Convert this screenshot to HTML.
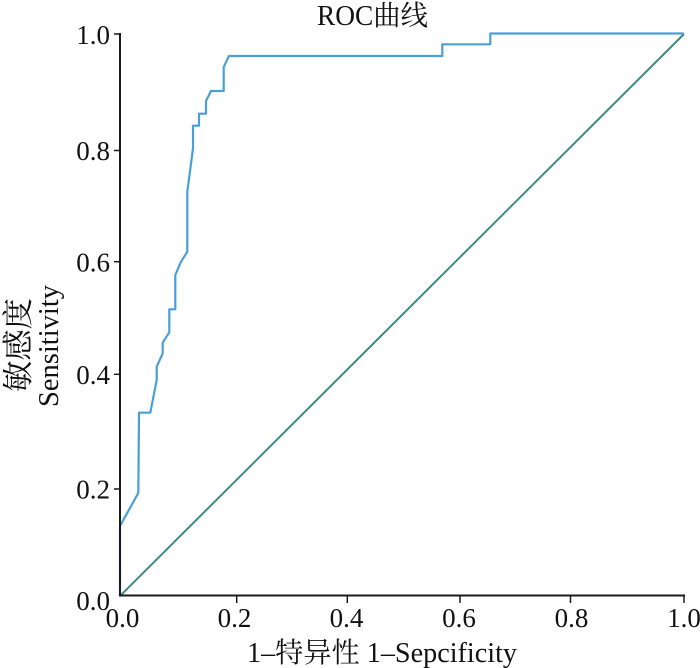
<!DOCTYPE html>
<html>
<head>
<meta charset="utf-8">
<style>
  html, body { margin: 0; padding: 0; background: #fff; }
  svg { display: block; }
  text { font-family: "Liberation Serif", "Noto Serif CJK SC", "Noto Sans CJK SC", serif; fill: #111; }
</style>
</head>
<body>
<svg width="700" height="668" viewBox="0 0 700 668" xmlns="http://www.w3.org/2000/svg">
  <rect width="700" height="668" fill="#fff"/>

  <!-- title -->
  <text x="317" y="25" font-size="28" textLength="111" lengthAdjust="spacingAndGlyphs">ROC曲线</text>

  <!-- diagonal reference -->
  <line x1="120" y1="596" x2="684" y2="34" stroke="#3f8a82" stroke-width="2"/>

  <!-- ROC curve -->
  <polyline fill="none" stroke="#4a9fd6" stroke-width="2.2" stroke-linejoin="round"
    points="120,596 120,526 138.3,493 139,412.7 150.3,412.7 156.7,380 156.7,366.7 162.7,353.3 162.7,342.7 169.3,332.3 169.3,309.3 175.3,309.3 175.3,275 181,261.7 187.3,251.7 187.3,191.7 193,148.3 193,125.7 199,125.7 199,113.7 206,113.7 206,101 211,91 223.7,91 223.7,67 229,56 442.3,56 442.3,44.3 490.3,44.3 490.3,33.5 684,33.5"/>

  <!-- axes -->
  <line x1="120" y1="33" x2="120" y2="596.5" stroke="#1a1a1a" stroke-width="2"/>
  <line x1="119" y1="595.5" x2="685" y2="595.5" stroke="#1a1a1a" stroke-width="2"/>

  <!-- y ticks -->
  <g stroke="#1a1a1a" stroke-width="1.5">
    <line x1="114" y1="34" x2="120" y2="34"/>
    <line x1="114" y1="150.5" x2="120" y2="150.5"/>
    <line x1="114" y1="261.7" x2="120" y2="261.7"/>
    <line x1="114" y1="374.3" x2="120" y2="374.3"/>
    <line x1="114" y1="489" x2="120" y2="489"/>
  </g>
  <!-- x ticks -->
  <g stroke="#1a1a1a" stroke-width="1.5">
    <line x1="236.7" y1="596" x2="236.7" y2="603"/>
    <line x1="347.3" y1="596" x2="347.3" y2="603"/>
    <line x1="460" y1="596" x2="460" y2="603"/>
    <line x1="570.5" y1="596" x2="570.5" y2="603"/>
    <line x1="684" y1="596" x2="684" y2="603"/>
  </g>

  <!-- y tick labels -->
  <g font-size="27" text-anchor="end">
    <text x="110" y="44">1.0</text>
    <text x="110" y="160">0.8</text>
    <text x="110" y="271.5">0.6</text>
    <text x="110" y="384">0.4</text>
    <text x="110" y="498.5">0.2</text>
    <text x="110" y="610">0.0</text>
  </g>

  <!-- x tick labels -->
  <g font-size="27" text-anchor="middle">
    <text x="122.5" y="627">0.0</text>
    <text x="234.5" y="627">0.2</text>
    <text x="346.5" y="627">0.4</text>
    <text x="459" y="627">0.6</text>
    <text x="571.5" y="627">0.8</text>
    <text x="684" y="627">1.0</text>
  </g>

  <!-- x axis label -->
  <text x="247" y="662" font-size="28" textLength="270" lengthAdjust="spacingAndGlyphs">1–特异性 1–Sepcificity</text>

  <!-- y axis label -->
  <text transform="translate(29,345) rotate(-90)" font-size="31" text-anchor="middle" textLength="94" lengthAdjust="spacingAndGlyphs">敏感度</text>
  <text transform="translate(58,346) rotate(-90)" font-size="28" text-anchor="middle" textLength="122" lengthAdjust="spacingAndGlyphs">Sensitivity</text>
</svg>
</body>
</html>
